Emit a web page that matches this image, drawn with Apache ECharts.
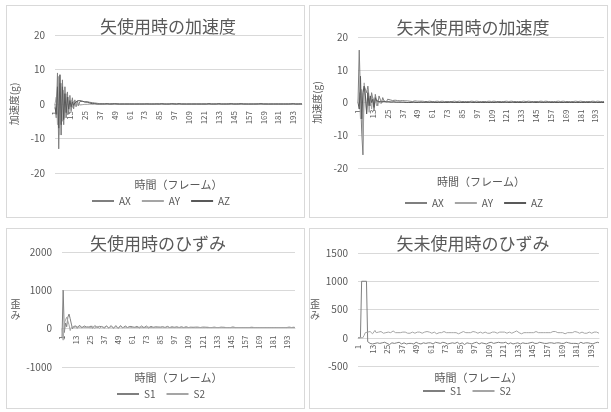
<!DOCTYPE html>
<html>
<head>
<meta charset="utf-8">
<title>矢の加速度とひずみ</title>
<script src="https://cdn.jsdelivr.net/npm/echarts@6/dist/echarts.min.js"></script>
<style>
html, body { margin: 0; padding: 0; background: #fff; }
.box { position: absolute; border: 1px solid #d9d9d9; box-sizing: border-box; }
#c1 { left: 6px; top: 5px; width: 299px; height: 213px; }
#c2 { left: 309px; top: 5px; width: 299px; height: 213px; }
#c3 { left: 6px; top: 228px; width: 299px; height: 181px; }
#c4 { left: 309px; top: 228px; width: 299px; height: 181px; }
</style>
</head>
<body>
<div id="c1" class="box"></div>
<div id="c2" class="box"></div>
<div id="c3" class="box"></div>
<div id="c4" class="box"></div>
<script>
// フレーム番号 1..200
var frames = [];
for (var i = 1; i <= 200; i++) {
    frames.push(i + '');
}

// 矢使用時の加速度 (g)
var accUsedAX = [
    0,-4,9,-13,6,-9,7,-6,5,-4, 3.5,-3,2.5,-2,1.8,-1.4,1.2,-0.8,0.9,-0.5,
    0.7,0.2,0.8,0.3,0.6,0.4,0.7,0.3,0.5,0.2, 0.4,0.2,0.3,0.1,0.2,0.1,0.1,0,0.1,0,
    0.1,0,0,0.1,0,0,0.1,0,0,0, 0.1,0,0,0,0,0.1,0,0,0,0,
    0,0.1,0,0,0,0,0,0.1,0,0, 0,0,0,0,0.1,0,0,0,0,0,
    0,0,0.1,0,0,0,0,0,0,0.1, 0,0,0,0,0,0,0.1,0,0,0,
    0,0,0,0.1,0,0,0,0,0,0, 0,0.1,0,0,0,0,0,0,0,0.1,
    0,0,0,0,0,0.1,0,0,0,0, 0,0,0,0.1,0,0,0,0,0,0,
    0.1,0,0,0,0,0,0,0,0.1,0, 0,0,0,0,0,0,0,0.1,0,0,
    0,0,0,0,0.1,0,0,0,0,0, 0,0,0,0.1,0,0,0,0,0,0,
    0,0.1,0,0,0,0,0,0,0,0, 0.1,0,0,0,0,0,0,0,0.1,0
];
var accUsedAY = [
    0,2,-6,8,-9,6,-5,4,-4,3, -2.5,2,-1.5,1.2,-1,0.8,-0.6,0.5,-0.4,0.3,
    -0.3,0.2,-0.2,0.2,-0.1,0.1,-0.1,0.1,0,0.1, 0,0,0.1,0,0,0,0,0,0,0,
    0,-0.1,0,0,0,0,-0.1,0,0,0, 0,0,-0.1,0,0,0,0,0,0,-0.1,
    0,0,0,0,-0.1,0,0,0,0,0, 0,0,0,-0.1,0,0,0,0,0,0,
    0,-0.1,0,0,0,0,0,0,0,0, -0.1,0,0,0,0,0,0,0,-0.1,0,
    0,0,0,0,0,0,-0.1,0,0,0, 0,0,0,0,0,-0.1,0,0,0,0,
    0,0,-0.1,0,0,0,0,0,0,0, 0,-0.1,0,0,0,0,0,0,0,0,
    -0.1,0,0,0,0,0,0,0,-0.1,0, 0,0,0,0,0,0,-0.1,0,0,0,
    0,0,0,-0.1,0,0,0,0,0,0, 0,0,-0.1,0,0,0,0,0,0,0,
    0,0,0,0,0,-0.1,0,0,0,0, 0,0,0,0,-0.1,0,0,0,0,0
];
var accUsedAZ = [
    -1,-3,5,-7,8.5,-6,5,-4.5,3,-2.5, 2,-1.5,1,-0.8,0.6,-0.4,0.3,0.5,0.9,0.6,
    1,0.5,0.8,0.4,0.6,0.3,0.5,0.2,0.3,0.2, 0.1,0.2,0.1,0.1,0,0.1,0,0,0,0,
    0,0,0.1,0,0,0,0,0,0.1,0, 0,0,0,0,0,0.1,0,0,0,0,
    0,0,0,0.1,0,0,0,0,0,0, 0,0.1,0,0,0,0,0,0,0,0.1,
    0,0,0,0,0,0,0.1,0,0,0, 0,0,0,0,0.1,0,0,0,0,0,
    0.1,0,0,0,0,0,0,0,0,0.1, 0,0,0,0,0,0,0,0.1,0,0,
    0,0,0,0,0.1,0,0,0,0,0, 0,0,0.1,0,0,0,0,0,0,0,
    0,0,0.1,0,0,0,0,0,0,0, 0.1,0,0,0,0,0,0,0,0,0.1,
    0,0,0,0,0,0,0.1,0,0,0, 0,0,0,0,0,0.1,0,0,0,0,
    0,0.1,0,0,0,0,0,0,0,0, 0,0,0.1,0,0,0,0,0,0,0
];

// 矢未使用時の加速度 (g)
var accUnusedAX = [
    0,16,2,-9,-16,5,4.5,3,5,1.5, -1,3,1,-2.5,2.5,0.5,-1,2,1,0,
    1.5,0.5,0.8,0.2,1,0.4,0.8,0.2,0.6,0.3, 0.7,0.4,0.6,0.3,0.5,0.4,0.6,0.3,0.5,0.4,
    0.5,0.3,0.4,0.5,0.3,0.4,0.5,0.3,0.4,0.3, 0.4,0.3,0.4,0.3,0.3,0.4,0.3,0.3,0.4,0.3,
    0.3,0.4,0.3,0.3,0.4,0.3,0.3,0.3,0.4,0.3, 0.3,0.4,0.3,0.3,0.3,0.4,0.3,0.3,0.4,0.3,
    0.3,0.3,0.4,0.3,0.3,0.4,0.3,0.3,0.3,0.4, 0.3,0.3,0.4,0.3,0.3,0.3,0.4,0.3,0.3,0.4,
    0.3,0.3,0.3,0.4,0.3,0.3,0.4,0.3,0.3,0.3, 0.4,0.3,0.3,0.4,0.3,0.3,0.3,0.4,0.3,0.3,
    0.4,0.3,0.3,0.3,0.4,0.3,0.3,0.4,0.3,0.3, 0.3,0.4,0.3,0.3,0.4,0.3,0.3,0.3,0.4,0.3,
    0.3,0.4,0.3,0.3,0.3,0.4,0.3,0.3,0.4,0.3, 0.3,0.3,0.4,0.3,0.3,0.4,0.3,0.3,0.3,0.4,
    0.3,0.3,0.4,0.3,0.3,0.3,0.4,0.3,0.3,0.4, 0.3,0.3,0.3,0.4,0.3,0.3,0.4,0.3,0.3,0.3,
    0.4,0.3,0.3,0.4,0.3,0.3,0.3,0.4,0.3,0.3, 0.4,0.3,0.3,0.3,0.4,0.3,0.3,0.4,0.3,0.3
];
var accUnusedAY = [
    0,3,-5,4,-11,6,2,-3,4,-3, 2,-2,1.5,0,1,-1,0.8,0,0.5,-0.3,
    0.4,0,0.3,-0.2,0.3,0,0.2,0,0.2,0, 0.1,0,0.1,0,0.1,0,0,0.1,0,0,
    0,0.1,0,0,0,0,0.1,0,0,0, 0,0,0.1,0,0,0,0,0,0,0.1,
    0,0,0,0,0.1,0,0,0,0,0, 0,0,0,0.1,0,0,0,0,0,0,
    0,0.1,0,0,0,0,0,0,0,0, 0.1,0,0,0,0,0,0,0,0.1,0,
    0,0,0,0,0,0,0.1,0,0,0, 0,0,0,0,0,0.1,0,0,0,0,
    0,0,0.1,0,0,0,0,0,0,0, 0,0.1,0,0,0,0,0,0,0,0,
    0.1,0,0,0,0,0,0,0,0.1,0, 0,0,0,0,0,0,0.1,0,0,0,
    0,0,0,0.1,0,0,0,0,0,0, 0,0,0.1,0,0,0,0,0,0,0,
    0,0,0,0,0,0.1,0,0,0,0, 0,0,0,0,0.1,0,0,0,0,0
];
var accUnusedAZ = [
    0,-2,8,-5,3,5,2,-3.5,3,-1, 2,0,1,-1.5,1.5,0.5,1,0.3,0.6,0.2,
    0.8,0.3,0.5,0.2,0.6,0.2,0.4,0.1,0.3,0.2, 0.3,0.1,0.2,0.1,0.2,0.1,0.1,0.1,0.1,0,
    0.1,0,0.1,0,0,0.1,0,0,0.1,0, 0,0.1,0,0,0,0.1,0,0,0,0.1,
    0,0,0.1,0,0,0,0.1,0,0,0, 0.1,0,0,0,0,0.1,0,0,0,0,
    0.1,0,0,0,0.1,0,0,0,0,0, 0,0.1,0,0,0,0,0.1,0,0,0,
    0,0,0.1,0,0,0,0,0,0.1,0, 0,0,0,0.1,0,0,0,0,0,0.1,
    0,0,0,0,0,0.1,0,0,0,0, 0.1,0,0,0,0,0,0,0.1,0,0,
    0,0.1,0,0,0,0,0,0.1,0,0, 0,0,0,0.1,0,0,0,0,0,0,
    0.1,0,0,0,0,0,0.1,0,0,0, 0,0,0,0,0.1,0,0,0,0,0,
    0,0,0.1,0,0,0,0,0,0,0.1, 0,0,0,0,0,0,0.1,0,0,0
];

// 矢使用時のひずみ
var strainUsedS1 = [
    -250,1000,-100,150,50,300,380,260,120,0, 60,110,70,10,30,90,80,20,10,70,
    90,40,0,40,90,70,10,20,80,80, 30,10,60,90,50,0,30,80,70,20,
    20,70,80,30,10,60,80,50,10,30, 80,70,20,20,70,80,30,10,60,80,
    50,10,30,70,60,20,20,60,70,30, 20,50,70,50,20,30,60,60,30,20,
    50,60,40,20,40,60,50,20,30,50, 60,30,30,50,50,30,30,50,50,30,
    30,40,50,40,30,40,50,40,30,40, 40,40,30,40,40,30,40,40,30,40,
    40,30,40,40,30,40,30,40,30,30, 40,30,30,40,30,30,40,30,30,30,
    30,40,30,30,30,30,40,30,30,30, 30,30,30,40,30,30,30,30,30,30,
    30,30,30,30,30,30,30,30,30,40, 30,30,30,30,30,30,30,30,30,30,
    30,30,30,40,30,30,30,30,30,30, 30,30,30,30,40,30,30,30,30,30
];
var strainUsedS2 = [
    0,-300,150,100,300,200,100,-50,40,80, 30,0,50,90,40,0,40,80,40,0,
    30,70,50,10,20,60,60,20,10,50, 60,30,10,40,60,40,10,30,60,50,
    20,20,50,50,20,20,50,50,20,20, 50,50,30,20,40,50,30,20,40,50,
    30,20,40,50,30,20,40,40,30,30, 40,40,30,30,40,40,30,30,40,40,
    30,30,40,40,30,30,40,30,30,40, 40,30,30,40,30,30,40,30,30,40,
    30,30,30,40,30,30,30,40,30,30, 30,30,40,30,30,30,30,40,30,30,
    30,30,30,30,40,30,30,30,30,30, 30,40,30,30,30,30,30,30,40,30,
    30,30,30,30,30,30,40,30,30,30, 30,30,30,30,30,40,30,30,30,30,
    30,30,40,30,30,30,30,30,30,30, 30,30,30,40,30,30,30,30,30,30,
    30,30,30,30,30,30,30,40,30,30, 30,30,30,30,30,30,30,30,40,30
];

// 矢未使用時のひずみ
var strainUnusedS1 = [
    0,0,0,1000,1000,1000,1000,1000,-70,-90, -100,-80,-110,-90,-100,-120,-90,-80,-100,-110,
    -90,-100,-80,-110,-100,-90,-120,-100,-90,-80, -100,-110,-90,-100,-80,-90,-110,-100,-90,-100,
    -110,-90,-100,-80,-100,-90,-110,-100,-80,-90, -100,-90,-110,-100,-90,-80,-100,-110,-90,-100,
    -90,-100,-110,-90,-80,-100,-90,-110,-100,-90, -80,-100,-90,-100,-110,-90,-100,-80,-90,-100,
    -100,-90,-80,-100,-110,-100,-90,-100,-120,-100, -90,-80,-100,-90,-110,-100,-90,-100,-80,-90,
    -110,-100,-90,-80,-100,-90,-110,-100,-90,-100, -80,-90,-100,-110,-90,-100,-80,-100,-90,-110,
    -90,-100,-80,-90,-110,-100,-90,-100,-110,-90, -100,-80,-90,-100,-110,-100,-90,-80,-100,-90,
    -100,-110,-90,-100,-80,-90,-100,-110,-100,-90, -80,-100,-90,-110,-100,-90,-100,-80,-90,-100,
    -90,-80,-100,-110,-90,-100,-90,-80,-100,-110, -100,-90,-80,-100,-90,-110,-100,-90,-100,-80,
    -100,-90,-110,-100,-80,-90,-100,-110,-90,-100, -90,-80,-100,-90,-110,-100,-90,-100,-80,-90
];
var strainUnusedS2 = [
    0,20,0,-30,0,40,90,120,100,80, 110,90,70,100,130,90,80,100,90,110,
    100,80,70,90,110,100,80,90,100,120, 100,90,80,90,100,90,80,100,110,100,
    90,80,70,80,90,100,90,80,90,100, 110,100,90,80,90,100,90,110,120,100,
    90,80,90,100,80,70,80,90,100,90, 100,110,100,90,80,90,100,90,80,90,
    100,90,80,70,80,90,100,110,100,90, 80,90,100,90,100,110,120,100,90,80,
    90,100,90,80,90,100,90,80,70,80, 90,100,110,100,90,80,90,100,90,100,
    110,100,90,80,90,100,90,80,90,100, 110,120,100,90,80,70,80,90,100,90,
    80,90,100,90,80,90,100,110,100,90, 80,90,100,90,80,90,100,90,80,90,
    100,110,120,110,100,90,80,90,100,90, 80,70,80,90,100,90,80,90,100,110,
    120,100,90,80,90,100,90,80,70,80, 90,100,90,80,90,100,110,100,90,80
];

var FONT = '"Noto Sans CJK JP", "Noto Sans", sans-serif';
var TEXT = '#595959';
var GRID_LINE = '#d9d9d9';

function lineSeries(name, data, color) {
    return {
        name: name,
        type: 'line',
        data: data,
        symbol: 'none',
        lineStyle: { width: 1, color: color },
        itemStyle: { color: color }
    };
}

function chartOption(cfg) {
    return {
        animation: false,
        textStyle: { fontFamily: FONT },
        title: {
            text: cfg.title,
            left: cfg.titleX,
            top: cfg.titleY,
            textAlign: 'center',
            padding: 0,
            textStyle: { fontSize: 17, fontWeight: 'normal', color: TEXT, fontFamily: FONT }
        },
        legend: {
            left: cfg.legendX,
            top: cfg.legendY,
            padding: 0,
            icon: 'rect',
            itemWidth: 22,
            itemHeight: 2,
            itemGap: 11,
            textStyle: { fontSize: 10, color: TEXT }
        },
        grid: {
            left: cfg.grid[0], top: cfg.grid[1], right: cfg.grid[2], bottom: cfg.grid[3],
            outerBoundsMode: 'none'
        },
        xAxis: {
            type: 'category',
            data: frames,
            boundaryGap: false,
            name: '時間（フレーム）',
            nameLocation: 'middle',
            nameGap: cfg.xNameGap,
            nameTextStyle: { fontSize: 11, color: TEXT },
            axisLine: { onZero: false, lineStyle: { color: GRID_LINE } },
            axisTick: { show: false },
            axisLabel: { rotate: 90, interval: 11, fontSize: 8, color: TEXT, margin: 7 }
        },
        yAxis: {
            type: 'value',
            min: cfg.yMin,
            max: cfg.yMax,
            interval: cfg.yStep,
            name: cfg.yName,
            nameLocation: 'middle',
            nameGap: cfg.yNameGap,
            nameRotate: cfg.yNameRotate,
            nameTextStyle: { fontSize: 10, color: TEXT, lineHeight: 11 },
            axisLine: { show: false },
            axisTick: { show: false },
            axisLabel: {
                fontSize: 10, color: TEXT, margin: 10,
                formatter: function (v) { return v + ''; }
            },
            splitLine: { lineStyle: { color: GRID_LINE } }
        },
        series: cfg.series
    };
}

// 横軸を値 0 の位置へ移す (Excel と同じく 0 の線に沿ってラベルを置く)
function moveAxisToZero(chart, gridBottom) {
    var zeroY = chart.convertToPixel({ yAxisIndex: 0 }, 0);
    var axisY = chart.getHeight() - gridBottom;
    chart.setOption({ xAxis: { offset: zeroY - axisY } });
}

function drawChart(id, cfg) {
    var chart = echarts.init(document.getElementById(id));
    chart.setOption(chartOption(cfg));
    moveAxisToZero(chart, cfg.grid[3]);
    return chart;
}

var chart1 = drawChart('c1', {
    title: '矢使用時の加速度',
    titleX: 161, titleY: 12,
    legendX: 85, legendY: 190,
    grid: [48, 29, 2, 44],
    xNameGap: 75,
    yMin: -20, yMax: 20, yStep: 10,
    yName: '加速度(g)', yNameGap: 35, yNameRotate: 90,
    series: [
        lineSeries('AX', accUsedAX, '#7f7f7f'),
        lineSeries('AY', accUsedAY, '#a5a5a5'),
        lineSeries('AZ', accUsedAZ, '#595959')
    ]
});

var chart2 = drawChart('c2', {
    title: '矢未使用時の加速度',
    titleX: 163, titleY: 13,
    legendX: 95, legendY: 192,
    grid: [48, 31, 3, 49],
    xNameGap: 74,
    yMin: -20, yMax: 20, yStep: 10,
    yName: '加速度(g)', yNameGap: 34, yNameRotate: 90,
    series: [
        lineSeries('AX', accUnusedAX, '#7f7f7f'),
        lineSeries('AY', accUnusedAY, '#a5a5a5'),
        lineSeries('AZ', accUnusedAZ, '#595959')
    ]
});

var chart3 = drawChart('c3', {
    title: '矢使用時のひずみ',
    titleX: 151, titleY: 6,
    legendX: 110, legendY: 160,
    grid: [55, 23, 9, 41],
    xNameGap: 44,
    yMin: -1000, yMax: 2000, yStep: 1000,
    yName: '歪\nみ', yNameGap: 40, yNameRotate: 0,
    series: [
        lineSeries('S1', strainUsedS1, '#7f7f7f'),
        lineSeries('S2', strainUsedS2, '#a5a5a5')
    ]
});

var chart4 = drawChart('c4', {
    title: '矢未使用時のひずみ',
    titleX: 163, titleY: 6,
    legendX: 113, legendY: 157,
    grid: [48, 24, 8, 42],
    xNameGap: 35,
    yMin: -500, yMax: 1500, yStep: 500,
    yName: '歪\nみ', yNameGap: 32, yNameRotate: 0,
    series: [
        lineSeries('S1', strainUnusedS1, '#7f7f7f'),
        lineSeries('S2', strainUnusedS2, '#a5a5a5')
    ]
});
</script>
</body>
</html>
